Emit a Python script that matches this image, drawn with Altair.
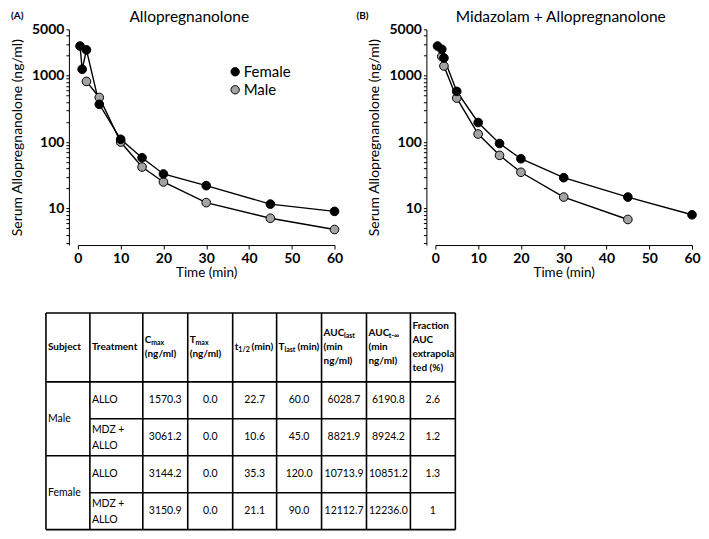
import altair as alt
import pandas as pd

# ---------------- data ----------------
time_A_female = [0.5, 1, 2, 5, 10, 15, 20, 30, 45, 60]
conc_A_female = [2800, 1250, 2450, 370, 110, 58, 33, 22, 11.6, 9.0]
time_A_male = [2, 5, 10, 15, 20, 30, 45, 60]
conc_A_male = [820, 470, 100, 42, 25, 12.2, 7.1, 4.8]

time_B_female = [0.5, 1.5, 2, 5, 10, 15, 20, 30, 45, 60]
conc_B_female = [2800, 2500, 1850, 580, 197, 95, 56, 29, 14.8, 8.0]
time_B_male = [1.5, 2, 5, 10, 15, 20, 30, 45]
conc_B_male = [1950, 1400, 460, 132, 63, 35, 14.8, 6.8]

panel_titles = ["Allopregnanolone", "Midazolam + Allopregnanolone"]
panel_tags = ["(A)", "(B)"]
sexes = ["Female", "Male"]
x_ticks = [0, 10, 20, 30, 40, 50, 60]
y_labelled = [10, 100, 1000, 5000]

# table content
header_cells = [
    [[("Subject", "b")]],
    [[("Treatment", "b")]],
    [[("C", "b"), ("max", "s")], [("(ng/ml)", "b")]],
    [[("T", "b"), ("max", "s")], [("(ng/ml)", "b")]],
    [[("t", "b"), ("1/2", "s"), ("(min)", "b")]],
    [[("T", "b"), ("last", "s"), ("(min)", "b")]],
    [[("AUC", "b"), ("last", "s")], [("(min", "b")], [("ng/ml)", "b")]],
    [[("AUC", "b"), ("t-\u221e", "s")], [("(min", "b")], [("ng/ml)", "b")]],
    [[("Fraction", "b")], [("AUC", "b")], [("extrapola", "b")], [("ted (%)", "b")]],
]
subjects = ["Male", "Female"]
treatments = [["ALLO"], ["MDZ +", "ALLO"], ["ALLO"], ["MDZ +", "ALLO"]]
cmax = ["1570.3", "3061.2", "3144.2", "3150.9"]
tmax = ["0.0", "0.0", "0.0", "0.0"]
thalf = ["22.7", "10.6", "35.3", "21.1"]
tlast = ["60.0", "45.0", "120.0", "90.0"]
auc_last = ["6028.7", "8821.9", "10713.9", "12112.7"]
auc_inf = ["6190.8", "8924.2", "10851.2", "12236.0"]
frac_extrap = ["2.6", "1.2", "1.3", "1"]

# ---------------- layout / style ----------------
FONT = "Lato"
PW, PH = 257, 216
GREY = "#a3a3a3"

y_tick_vals = [m * 10 ** e for e in range(0, 4) for m in range(1, 10)]
y_tick_vals = [v for v in y_tick_vals if 3 <= v <= 5000]
lab_test = "indexof(%s, datum.value) >= 0" % str(y_labelled)


def panel(tf, cf, tm, cm, title, tag, title_dx, tag_x, show_legend):
    df = pd.DataFrame({
        "t": list(tm) + list(tf),
        "c": list(cm) + list(cf),
        "sex": ["Male"] * len(tm) + ["Female"] * len(tf),
    })
    x = alt.X("t:Q", scale=alt.Scale(domain=[0, 60], nice=False, zero=False),
              axis=alt.Axis(values=x_ticks, format="d", title="Time (min)",
                            titleFont=FONT, titleFontSize=13.5, titleFontWeight="normal",
                            titleColor="black", titlePadding=1,
                            labelFont=FONT, labelFontSize=14, labelFontWeight="bold",
                            labelColor="black", labelFlush=False, labelPadding=2,
                            tickSize=4, tickColor="black", domainColor="black",
                            grid=False))
    y = alt.Y("c:Q", scale=alt.Scale(type="log", domain=[2.8, 5000], nice=False),
              axis=alt.Axis(values=y_tick_vals,
                            labelExpr=lab_test + " ? format(datum.value, 'd') : ''",
                            title="Serum Allopregnanolone (ng/ml)",
                            titleFont=FONT, titleFontSize=14, titleFontWeight="normal",
                            titleColor="black", titlePadding=7,
                            labelFont=FONT, labelFontSize=14, labelFontWeight="bold",
                            labelColor="black", labelFlush=False, labelPadding=2,
                            tickSize=3, tickColor="black", domainColor="black",
                            offset=9, grid=False))
    lines = alt.Chart(df).mark_line(color="black", strokeWidth=1.4).encode(
        x=x, y=y, detail="sex:N")
    legend = None
    if show_legend:
        legend = alt.Legend(orient="none", legendX=150, legendY=35, title=None,
                            labelFont=FONT, labelFontSize=15, labelColor="black",
                            symbolType="circle", symbolSize=70,
                            symbolStrokeColor="black", symbolStrokeWidth=1,
                            rowPadding=2, labelOffset=1)
    pts = alt.Chart(df).mark_point(shape="circle", filled=True, size=75, opacity=1,
                                   stroke="black", strokeWidth=1).encode(
        x=x, y=y,
        fill=alt.Fill("sex:N", scale=alt.Scale(domain=sexes, range=["black", GREY]),
                      legend=legend))
    tagc = alt.Chart(pd.DataFrame({"tag": [tag]})).mark_text(
        font=FONT, fontSize=10, fontWeight="bold", align="left", baseline="middle",
        color="black").encode(text="tag:N", x=alt.value(tag_x), y=alt.value(-13))
    titlec = alt.Chart(pd.DataFrame({"title": [title]})).mark_text(
        font=FONT, fontSize=15.5, align="center", baseline="middle",
        color="black").encode(text="title:N", x=alt.value(PW / 2 + title_dx), y=alt.value(-12))
    return alt.layer(lines, pts, tagc, titlec).properties(width=PW, height=PH)


pA = panel(time_A_female, conc_A_female, time_A_male, conc_A_male,
           panel_titles[0], panel_tags[0], -17, -67, True)
pB = panel(time_B_female, conc_B_female, time_B_male, conc_B_male,
           panel_titles[1], panel_tags[1], -3, -79, False)

top = alt.hconcat(pA, pB, spacing=13).resolve_scale(fill="independent").resolve_legend(fill="independent")

# ---------------- table ----------------
# x positions are in page pixels; the table view's origin sits under panel A's plot origin
ORIGIN_X = 77
TW, TH = 378, 217
tbl_left = 45
col_widths = [44, 53, 45, 45, 44, 45, 45, 44, 45]
header_h, row_h = 69, 37
edges = [tbl_left]
for w in col_widths:
    edges.append(edges[-1] + w)
row_edges = [0, header_h] + [header_h + row_h * (i + 1) for i in range(4)]

char_w = {'A': .69, 'C': .64, 'U': .71, 'T': .58, 't': .37, 'm': .86, 'a': .5,
          'x': .5, 'l': .25, 's': .41, '1': .58, '2': .58, '/': .36, '-': .36,
          '\u221e': .75, ' ': .25}


def text_w(s, size):
    return sum(char_w.get(ch, .55) for ch in s) * size


HFS, SFS, BFS = 10, 7, 10.5
head_rows = []
for ci, cell in enumerate(header_cells):
    n = len(cell)
    for li, line in enumerate(cell):
        yy = header_h / 2 + (li - (n - 1) / 2) * 14
        xx = edges[ci] + 2
        prev = None
        for txt, kind in line:
            size = HFS if kind == "b" else SFS
            if prev == "s":
                xx += 2.5  # word gap after a subscript
            head_rows.append({"x": xx, "y": yy + (3 if kind == "s" else 0),
                              "txt": txt, "kind": kind})
            xx += text_w(txt, size)
            prev = kind
head_df = pd.DataFrame(head_rows)

hrules = [
    {"x": edges[0], "x2": edges[-1], "y": row_edges[0]},
    {"x": edges[0], "x2": edges[-1], "y": row_edges[1]},
    {"x": edges[1], "x2": edges[-1], "y": row_edges[2]},
    {"x": edges[0], "x2": edges[-1], "y": row_edges[3]},
    {"x": edges[1], "x2": edges[-1], "y": row_edges[4]},
    {"x": edges[0], "x2": edges[-1], "y": row_edges[5]},
]
vrules = [{"x": e, "y": 0, "y2": TH} for e in edges]

body_left = []
for si, s in enumerate(subjects):
    body_left.append({"x": edges[0] + 2, "y": row_edges[1 + 2 * si + 1], "txt": s})
for ri, lines_ in enumerate(treatments):
    cy = (row_edges[1 + ri] + row_edges[2 + ri]) / 2
    n = len(lines_)
    for li, t in enumerate(lines_):
        body_left.append({"x": edges[1] + 2, "y": cy + 1 + (li - (n - 1) / 2) * 16 if n > 1 else cy,
                          "txt": t})
body_left_df = pd.DataFrame(body_left)

body_vals = []
for ci, col in enumerate([cmax, tmax, thalf, tlast, auc_last, auc_inf, frac_extrap]):
    for ri, v in enumerate(col):
        body_vals.append({"x": (edges[2 + ci] + edges[3 + ci]) / 2,
                          "y": (row_edges[1 + ri] + row_edges[2 + ri]) / 2, "txt": v})
body_vals_df = pd.DataFrame(body_vals)

xs = alt.Scale(domain=[ORIGIN_X, ORIGIN_X + TW], nice=False, zero=False)
ys = alt.Scale(domain=[0, TH], nice=False, zero=False, reverse=True)

hr = alt.Chart(pd.DataFrame(hrules)).mark_rule(color="black", strokeWidth=1.6).encode(
    x=alt.X("x:Q", scale=xs, axis=None), x2="x2:Q", y=alt.Y("y:Q", scale=ys, axis=None))
vr = alt.Chart(pd.DataFrame(vrules)).mark_rule(color="black", strokeWidth=1.6).encode(
    x=alt.X("x:Q", scale=xs, axis=None), y=alt.Y("y:Q", scale=ys, axis=None), y2="y2:Q")
hb = alt.Chart(head_df[head_df.kind == "b"]).mark_text(
    font=FONT, fontSize=HFS, fontWeight="bold", align="left", baseline="middle", color="black").encode(
    x=alt.X("x:Q", scale=xs, axis=None), y=alt.Y("y:Q", scale=ys, axis=None), text="txt:N")
hs = alt.Chart(head_df[head_df.kind == "s"]).mark_text(
    font=FONT, fontSize=SFS, fontWeight="bold", align="left", baseline="middle", color="black").encode(
    x=alt.X("x:Q", scale=xs, axis=None), y=alt.Y("y:Q", scale=ys, axis=None), text="txt:N")
bl = alt.Chart(body_left_df).mark_text(
    font=FONT, fontSize=BFS, align="left", baseline="middle", color="black").encode(
    x=alt.X("x:Q", scale=xs, axis=None), y=alt.Y("y:Q", scale=ys, axis=None), text="txt:N")
bv = alt.Chart(body_vals_df).mark_text(
    font=FONT, fontSize=BFS, align="center", baseline="middle", color="black").encode(
    x=alt.X("x:Q", scale=xs, axis=None), y=alt.Y("y:Q", scale=ys, axis=None), text="txt:N")

table = alt.layer(hr, vr, hb, hs, bl, bv).properties(width=TW, height=TH)

chart = alt.vconcat(top, table, spacing=32).properties(
    padding={"left": 2, "top": 2, "right": 0, "bottom": 0}, background="white"
).configure_view(stroke=None)

chart.save("out.html", embed_options={"renderer": "svg", "actions": False})
